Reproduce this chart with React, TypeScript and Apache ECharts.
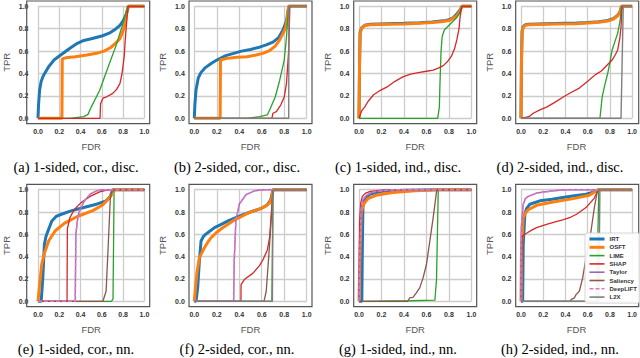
import React, { useEffect, useRef } from "react";
import * as echarts from "echarts";

// ---------- data ----------
const NAMES = ["IRT", "OSFT", "LIME", "SHAP", "Taylor", "Saliency", "DeepLIFT", "L2X"];
const COLORS = ["#1f77b4", "#ff7f0e", "#2ca02c", "#d62728", "#9467bd", "#8c564b", "#e377c2", "#7f7f7f"];
const CAPTIONS = [
  "(a) 1-sided, cor., disc.",
  "(b) 2-sided, cor., disc.",
  "(c) 1-sided, ind., disc.",
  "(d) 2-sided, ind., disc.",
  "(e) 1-sided, cor., nn.",
  "(f) 2-sided, cor., nn.",
  "(g) 1-sided, ind., nn.",
  "(h) 2-sided, ind., nn.",
];
const X_NAME = "FDR";
const Y_NAME = "TPR";

type P = number[][];

// (a)
const A_IRT: P = [[0,0],[0.005,0.12],[0.015,0.25],[0.03,0.33],[0.05,0.38],[0.1,0.46],[0.15,0.52],[0.22,0.57],[0.3,0.625],[0.37,0.67],[0.43,0.695],[0.5,0.71],[0.6,0.735],[0.67,0.76],[0.72,0.79],[0.77,0.83],[0.8,0.87],[0.83,0.93],[0.85,1.0],[1,1]];
const A_OSFT: P = [[0,0],[0.225,0],[0.228,0.53],[0.26,0.54],[0.35,0.55],[0.46,0.565],[0.55,0.58],[0.62,0.6],[0.68,0.63],[0.73,0.67],[0.77,0.71],[0.8,0.78],[0.82,0.85],[0.845,1.0],[1,1]];
const A_LIME: P = [[0,0],[0.3,0],[0.43,0.015],[0.47,0.035],[0.5,0.1],[0.58,0.25],[0.66,0.46],[0.73,0.64],[0.79,0.82],[0.845,1.0],[1,1]];
const A_SHAP: P = [[0,0],[0.583,0],[0.588,0.13],[0.61,0.18],[0.64,0.19],[0.7,0.22],[0.74,0.26],[0.77,0.31],[0.79,0.4],[0.81,0.55],[0.82,0.7],[0.84,0.94],[0.85,1.0],[1,1]];

// (b)
const B_IRT: P = [[0,0],[0.005,0.12],[0.015,0.25],[0.035,0.36],[0.06,0.41],[0.095,0.45],[0.15,0.49],[0.2,0.52],[0.28,0.56],[0.35,0.58],[0.42,0.6],[0.5,0.615],[0.58,0.635],[0.64,0.655],[0.7,0.68],[0.75,0.72],[0.79,0.79],[0.82,0.87],[0.84,1.0],[1,1]];
const B_OSFT: P = [[0,0],[0.23,0],[0.233,0.52],[0.29,0.535],[0.38,0.545],[0.47,0.55],[0.55,0.565],[0.61,0.58],[0.67,0.605],[0.72,0.645],[0.76,0.7],[0.79,0.76],[0.81,0.8],[0.825,0.88],[0.84,1.0],[1,1]];
const B_LIME: P = [[0,0],[0.47,0],[0.58,0.015],[0.65,0.03],[0.67,0.075],[0.72,0.19],[0.76,0.34],[0.8,0.52],[0.82,0.72],[0.83,0.88],[0.84,1.0],[1,1]];
const B_SHAP: P = [[0,0],[0.69,0],[0.7,0.045],[0.73,0.06],[0.77,0.12],[0.8,0.19],[0.82,0.31],[0.84,0.61],[0.85,1.0],[1,1]];
const B_L2X: P = [[0,0],[0.84,0],[0.842,1.0],[1,1]];

// (c)
const C_IRT: P = [[0,0],[0.005,0.5],[0.01,0.77],[0.025,0.81],[0.05,0.83],[0.1,0.84],[0.25,0.845],[0.4,0.848],[0.54,0.853],[0.65,0.86],[0.75,0.87],[0.8,0.88],[0.84,0.9],[0.87,0.93],[0.9,0.97],[0.915,1.0],[1,1]];
const C_OSFT: P = [[0,0],[0.005,0.5],[0.01,0.76],[0.025,0.805],[0.05,0.828],[0.1,0.835],[0.25,0.84],[0.4,0.843],[0.54,0.848],[0.65,0.855],[0.75,0.865],[0.81,0.875],[0.84,0.895],[0.87,0.915],[0.9,0.96],[0.915,1.0],[1,1]];
const C_LIME: P = [[0,0],[0.7,0],[0.715,0.1],[0.72,0.3],[0.73,0.6],[0.74,0.73],[0.76,0.79],[0.79,0.82],[0.83,0.86],[0.87,0.9],[0.9,0.95],[0.915,1.0],[1,1]];
const C_SHAP: P = [[0,0],[0.01,0.03],[0.025,0.07],[0.05,0.1],[0.08,0.15],[0.13,0.21],[0.19,0.25],[0.25,0.28],[0.32,0.33],[0.39,0.37],[0.46,0.395],[0.54,0.41],[0.6,0.42],[0.66,0.43],[0.71,0.45],[0.75,0.47],[0.79,0.51],[0.82,0.55],[0.85,0.62],[0.87,0.7],[0.89,0.8],[0.9,0.91],[0.915,1.0],[1,1]];

// (d)
const D_IRT: P = [[0,0],[0.004,0.5],[0.01,0.78],[0.02,0.82],[0.04,0.835],[0.065,0.84],[0.15,0.843],[0.3,0.846],[0.5,0.85],[0.6,0.855],[0.7,0.862],[0.78,0.873],[0.83,0.89],[0.87,0.92],[0.89,0.95],[0.905,1.0],[1,1]];
const D_OSFT: P = [[0,0],[0.004,0.5],[0.01,0.77],[0.02,0.815],[0.04,0.83],[0.065,0.835],[0.15,0.838],[0.3,0.841],[0.5,0.845],[0.6,0.85],[0.7,0.857],[0.78,0.868],[0.83,0.885],[0.87,0.915],[0.89,0.945],[0.905,1.0],[1,1]];
const D_LIME: P = [[0,0],[0.71,0],[0.72,0.09],[0.73,0.19],[0.755,0.3],[0.78,0.4],[0.8,0.5],[0.82,0.61],[0.85,0.7],[0.87,0.76],[0.89,0.86],[0.905,1.0],[1,1]];
const D_SHAP: P = [[0,0],[0.05,0.01],[0.08,0.02],[0.11,0.045],[0.17,0.075],[0.23,0.1],[0.3,0.14],[0.38,0.19],[0.45,0.23],[0.525,0.27],[0.6,0.33],[0.67,0.39],[0.72,0.42],[0.76,0.46],[0.8,0.5],[0.82,0.52],[0.85,0.57],[0.87,0.61],[0.89,0.72],[0.9,0.82],[0.91,1.0],[1,1]];
const D_L2X: P = [[0,0],[0.9,0],[0.92,1.0],[1,1]];

// (e)
const E_IRT: P = [[0,0],[0.03,0],[0.045,0.21],[0.06,0.51],[0.075,0.58],[0.09,0.62],[0.11,0.67],[0.13,0.72],[0.17,0.76],[0.22,0.78],[0.31,0.81],[0.43,0.84],[0.55,0.87],[0.64,0.9],[0.68,0.94],[0.7,1.0],[1,1]];
const E_OSFT: P = [[0,0],[0.015,0.15],[0.035,0.33],[0.06,0.43],[0.1,0.54],[0.16,0.63],[0.25,0.7],[0.37,0.76],[0.52,0.815],[0.61,0.865],[0.68,0.94],[0.69,0.95],[0.7,1.0],[1,1]];
const E_LIME: P = [[0,0],[0.69,0],[0.705,0.02],[0.71,0.5],[0.715,1.0],[1,1]];
const E_SHAP: P = [[0,0],[0.273,0],[0.276,0.65],[0.3,0.75],[0.34,0.82],[0.4,0.88],[0.49,0.94],[0.58,0.98],[0.67,1.0],[1,1]];
const E_TAYLOR: P = [[0,0],[0.35,0],[0.356,0.6],[0.37,0.72],[0.386,0.8],[0.43,0.89],[0.49,0.96],[0.55,0.99],[0.61,1.0],[1,1]];
const E_SALIENCY: P = [[0,0],[0.61,0],[0.64,0.09],[0.66,0.5],[0.68,0.93],[0.7,1.0],[1,1]];
const E_DEEPLIFT: P = [[0,0],[0.35,0],[0.356,0.6],[0.37,0.72],[0.386,0.8],[0.43,0.89],[0.49,0.96],[0.55,0.99],[0.61,1.0],[1,1]];

// (f)
const F_IRT: P = [[0,0],[0.015,0],[0.03,0.12],[0.045,0.36],[0.06,0.54],[0.08,0.58],[0.1,0.6],[0.14,0.63],[0.18,0.66],[0.24,0.69],[0.3,0.72],[0.37,0.75],[0.445,0.78],[0.5,0.8],[0.56,0.82],[0.61,0.84],[0.65,0.865],[0.68,0.91],[0.7,1.0],[1,1]];
const F_OSFT: P = [[0,0],[0.01,0.12],[0.025,0.27],[0.045,0.39],[0.07,0.44],[0.09,0.48],[0.12,0.53],[0.15,0.57],[0.19,0.61],[0.24,0.65],[0.3,0.69],[0.36,0.73],[0.42,0.76],[0.475,0.79],[0.53,0.81],[0.59,0.83],[0.63,0.85],[0.67,0.88],[0.69,0.93],[0.7,1.0],[1,1]];
const F_LIME: P = [[0,0],[0.69,0],[0.695,0.5],[0.7,1.0],[1,1]];
const F_SHAP: P = [[0,0],[0.415,0],[0.416,0.15],[0.445,0.195],[0.52,0.25],[0.58,0.32],[0.61,0.37],[0.65,0.46],[0.67,0.57],[0.7,1.0],[1,1]];
const F_TAYLOR: P = [[0,0],[0.35,0],[0.355,0.36],[0.37,0.72],[0.4,0.87],[0.46,0.955],[0.535,0.99],[0.62,1.0],[1,1]];
const F_SALIENCY: P = [[0,0],[0.62,0],[0.64,0.09],[0.67,0.51],[0.7,0.985],[0.705,1.0],[1,1]];
const F_DEEPLIFT: P = [[0,0],[0.35,0],[0.355,0.36],[0.37,0.72],[0.4,0.87],[0.46,0.955],[0.535,0.99],[0.62,1.0],[1,1]];
const F_L2X: P = [[0,0],[0.695,0],[0.7,1.0],[1,1]];

// (g)
const G_IRT: P = [[0,0],[0.025,0],[0.03,0.5],[0.035,0.85],[0.06,0.93],[0.1,0.96],[0.2,0.985],[0.4,0.995],[0.7,1.0],[1,1]];
const G_OSFT: P = [[0,0],[0.01,0.5],[0.02,0.8],[0.04,0.87],[0.08,0.92],[0.15,0.95],[0.3,0.975],[0.5,0.99],[0.7,1.0],[1,1]];
const G_LIME: P = [[0,0],[0.45,0.005],[0.675,0.01],[0.69,0.2],[0.705,1.0],[1,1]];
const G_SHAP: P = [[0,0],[0.005,0.7],[0.015,0.88],[0.03,0.94],[0.06,0.97],[0.1,0.985],[0.2,0.995],[0.3,1.0],[1,1]];
const G_TAYLOR: P = [[0,0],[0.01,0.5],[0.02,0.85],[0.04,0.92],[0.08,0.96],[0.15,0.985],[0.3,1.0],[1,1]];
const G_SALIENCY: P = [[0,0],[0.433,0],[0.45,0.03],[0.48,0.035],[0.51,0.075],[0.54,0.12],[0.57,0.21],[0.6,0.33],[0.63,0.54],[0.66,0.75],[0.69,0.985],[0.7,1.0],[1,1]];
const G_DEEPLIFT: P = [[0,0],[0.01,0.5],[0.02,0.85],[0.04,0.92],[0.08,0.96],[0.15,0.985],[0.3,1.0],[1,1]];

// (h)
const H_IRT: P = [[0,0],[0.015,0],[0.02,0.51],[0.035,0.78],[0.05,0.83],[0.08,0.87],[0.17,0.9],[0.28,0.915],[0.375,0.93],[0.48,0.945],[0.585,0.96],[0.675,0.985],[0.695,1.0],[1,1]];
const H_OSFT: P = [[0,0],[0.005,0.51],[0.02,0.75],[0.04,0.79],[0.065,0.82],[0.14,0.86],[0.29,0.89],[0.47,0.92],[0.615,0.95],[0.695,1.0],[1,1]];
const H_LIME: P = [[0,0],[0.68,0],[0.69,0.5],[0.7,1.0],[1,1]];
const H_SHAP: P = [[0,0],[0.005,0],[0.01,0.58],[0.03,0.6],[0.05,0.61],[0.1,0.64],[0.14,0.66],[0.23,0.69],[0.3,0.71],[0.375,0.73],[0.45,0.755],[0.5,0.78],[0.585,0.84],[0.66,0.925],[0.695,1.0],[1,1]];
const H_TAYLOR: P = [[0,0],[0.003,0.66],[0.02,0.87],[0.04,0.92],[0.065,0.94],[0.14,0.97],[0.29,0.99],[0.41,1.0],[1,1]];
const H_SALIENCY: P = [[0,0],[0.445,0],[0.45,0.015],[0.48,0.03],[0.495,0.06],[0.525,0.09],[0.555,0.21],[0.585,0.39],[0.63,0.63],[0.66,0.84],[0.69,1.0],[1,1]];
const H_DEEPLIFT: P = [[0,0],[0.003,0.66],[0.02,0.87],[0.04,0.92],[0.065,0.94],[0.14,0.97],[0.29,0.99],[0.41,1.0],[1,1]];
const H_L2X: P = [[0,0],[0.7,0],[0.71,1.0],[1,1]];

// order per panel: IRT, OSFT, LIME, SHAP, Taylor, Saliency, DeepLIFT, L2X
const PANELS: (P | null)[][] = [
  [A_IRT, A_OSFT, A_LIME, A_SHAP, null, null, null, null],
  [B_IRT, B_OSFT, B_LIME, B_SHAP, null, null, null, B_L2X],
  [C_IRT, C_OSFT, C_LIME, C_SHAP, null, null, null, null],
  [D_IRT, D_OSFT, D_LIME, D_SHAP, null, null, null, D_L2X],
  [E_IRT, E_OSFT, E_LIME, E_SHAP, E_TAYLOR, E_SALIENCY, E_DEEPLIFT, null],
  [F_IRT, F_OSFT, F_LIME, F_SHAP, F_TAYLOR, F_SALIENCY, F_DEEPLIFT, F_L2X],
  [G_IRT, G_OSFT, G_LIME, G_SHAP, G_TAYLOR, G_SALIENCY, G_DEEPLIFT, null],
  [H_IRT, H_OSFT, H_LIME, H_SHAP, H_TAYLOR, H_SALIENCY, H_DEEPLIFT, H_L2X],
];

// ---------- layout / style ----------
const COL_LEFT = [32, 194.3, 359, 521];
const PLOT_W = 112.4;
const ROW_TOP = [6.3, 189.7];
const PLOT_H = [112, 111.6];
const FRAME_PAD = 5.3;
const CAPTION_X = [76, 237, 398, 560];
const CAPTION_Y = [167, 349];
const WIDTHS = [3, 3, 1.3, 1.3, 1.4, 1.3, 1.5, 1.4];
const LEGEND_WIDTHS = [3, 3, 1.6, 1.6, 1.6, 1.6, 1.6, 1.6];

function buildOption(): echarts.EChartsOption {
  const grids: any[] = [];
  const xAxes: any[] = [];
  const yAxes: any[] = [];
  const series: any[] = [];
  const graphics: any[] = [];

  for (let i = 0; i < 8; i++) {
    const r = Math.floor(i / 4);
    const c = i % 4;
    const left = COL_LEFT[c];
    const top = ROW_TOP[r];
    const h = PLOT_H[r];
    grids.push({ left, top, width: PLOT_W, height: h, containLabel: false });
    xAxes.push({
      gridIndex: i,
      type: "value",
      min: 0,
      max: 1,
      interval: 0.2,
      axisLine: { show: false },
      axisTick: { show: false },
      splitLine: { show: true, lineStyle: { color: "#cccccc", width: 1.3 } },
      axisLabel: {
        formatter: (v: number) => v.toFixed(1),
        fontSize: 7,
        fontWeight: "bold",
        color: "#333",
        fontFamily: "Liberation Sans",
        margin: 10,
      },
      name: X_NAME,
      nameLocation: "middle",
      nameGap: 22.7,
      nameTextStyle: { fontSize: 9.5, color: "#555", fontFamily: "Liberation Sans" },
    });
    yAxes.push({
      gridIndex: i,
      type: "value",
      min: 0,
      max: 1,
      interval: 0.2,
      axisLine: { show: false },
      axisTick: { show: false },
      splitLine: { show: true, lineStyle: { color: "#cccccc", width: 1.3 } },
      axisLabel: {
        formatter: (v: number) => v.toFixed(1),
        fontSize: 7,
        fontWeight: "bold",
        color: "#333",
        fontFamily: "Liberation Sans",
        margin: 9.5,
      },
      name: Y_NAME,
      nameLocation: "middle",
      nameGap: 27,
      nameTextStyle: { fontSize: 9.5, color: "#555", fontFamily: "Liberation Sans" },
    });
    PANELS[i].forEach((d, k) => {
      if (!d) return;
      series.push({
        name: NAMES[k],
        type: "line",
        xAxisIndex: i,
        yAxisIndex: i,
        data: d,
        symbol: "none",
        showSymbol: false,
        clip: false,
        color: COLORS[k],
        lineStyle: {
          color: COLORS[k],
          width: WIDTHS[k],
          type: NAMES[k] === "DeepLIFT" ? [4, 2] : "solid",
        },
        emphasis: { disabled: true },
        z: 2 + k * 0.01,
      });
    });
    graphics.push({
      type: "rect",
      shape: {
        x: left - FRAME_PAD,
        y: top - FRAME_PAD,
        width: PLOT_W + 2 * FRAME_PAD,
        height: h + 2 * FRAME_PAD,
      },
      style: { fill: "none", stroke: "#555", lineWidth: 1.2 },
      z: 50,
      silent: true,
    });
    graphics.push({
      type: "text",
      style: {
        text: CAPTIONS[i],
        x: CAPTION_X[c],
        y: CAPTION_Y[r],
        textAlign: "center",
        textVerticalAlign: "middle",
        font: '14.5px "Liberation Serif"',
        fill: "#000",
      },
      z: 50,
      silent: true,
    });
  }

  return {
    animation: false,
    backgroundColor: "#fff",
    grid: grids,
    xAxis: xAxes,
    yAxis: yAxes,
    series,
    graphic: graphics,
    legend: {
      data: NAMES.map((n, k) => ({
        name: n,
        lineStyle: { width: LEGEND_WIDTHS[k], type: n === "DeepLIFT" ? [4, 2] : "solid" },
      })),
      orient: "vertical",
      left: 585,
      top: 233,
      padding: [3, 3, 3, 3],
      itemWidth: 15,
      itemHeight: 6,
      itemGap: 2.3,
      selectedMode: false,
      itemStyle: { opacity: 0 },
      textStyle: {
        fontSize: 6,
        lineHeight: 6,
        fontWeight: "bold",
        color: "#333",
        fontFamily: "Liberation Sans",
      },
      backgroundColor: "rgba(255,255,255,0.9)",
      borderColor: "#ccc",
      borderWidth: 0.8,
      borderRadius: 2,
      z: 60,
    },
  };
}

export default function App() {
  const ref = useRef<HTMLDivElement>(null);
  useEffect(() => {
    if (!ref.current) return;
    const chart = echarts.init(ref.current, undefined, { renderer: "svg" });
    chart.setOption(buildOption());
    return () => chart.dispose();
  }, []);
  return (
    <div
      ref={ref}
      style={{ position: "fixed", left: 0, top: 0, width: 640, height: 358 }}
    />
  );
}
